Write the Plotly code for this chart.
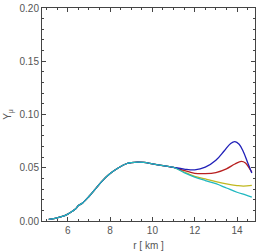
import plotly.graph_objects as go

r_common = [5.1, 5.4, 5.7, 6.0, 6.2, 6.4, 6.5, 6.7, 7.0, 7.3, 7.6, 8.0, 8.4, 8.8, 9.0, 9.3, 9.6, 10.0, 10.5, 11.0]
y_common = [0.0015, 0.0025, 0.0040, 0.0065, 0.009, 0.012, 0.0145, 0.017, 0.023, 0.030, 0.037, 0.0445, 0.050, 0.054, 0.0548, 0.0553, 0.0550, 0.0537, 0.052, 0.0503]

r_blue_tail = [11.5, 12.0, 12.5, 13.0, 13.4, 13.7, 13.9, 14.1, 14.3, 14.5, 14.7]
y_blue_tail = [0.0488, 0.0480, 0.0505, 0.0570, 0.0660, 0.0728, 0.0745, 0.0720, 0.0650, 0.0550, 0.0450]

r_red_tail = [11.5, 12.0, 12.5, 13.0, 13.5, 13.9, 14.2, 14.4, 14.6, 14.7]
y_red_tail = [0.0475, 0.0448, 0.0445, 0.0455, 0.0490, 0.0535, 0.0560, 0.0545, 0.0490, 0.0460]

r_yellow_tail = [11.5, 12.0, 12.5, 13.0, 13.5, 14.0, 14.3, 14.7]
y_yellow_tail = [0.0460, 0.0420, 0.0395, 0.0370, 0.0348, 0.0333, 0.0328, 0.0335]

r_cyan_tail = [11.5, 12.0, 12.5, 13.0, 13.5, 14.0, 14.4, 14.7]
y_cyan_tail = [0.0455, 0.0413, 0.0380, 0.0350, 0.0310, 0.0270, 0.0245, 0.0225]

series = [
    ("#c0b820", r_yellow_tail, y_yellow_tail),
    ("#b82020", r_red_tail, y_red_tail),
    ("#2020b8", r_blue_tail, y_blue_tail),
    ("#20b8c0", r_cyan_tail, y_cyan_tail),
]

fig = go.Figure()
for col, rt, yt in series:
    fig.add_trace(go.Scatter(x=r_common + rt, y=y_common + yt, mode="lines",
                             line=dict(color=col, width=1.3, shape="spline"),
                             showlegend=False, hoverinfo="skip"))

FONT = "Liberation Sans"
axis_common = dict(showline=True, linecolor="#444", linewidth=1, mirror="allticks",
                   ticks="inside", ticklen=4, tickcolor="#444", showgrid=False, zeroline=False,
                   tickfont=dict(family=FONT, size=10, color="#555"))

fig.update_xaxes(range=[4.78, 14.85], dtick=2, tick0=0,
                 minor=dict(ticks="inside", ticklen=2, dtick=0.5, tickcolor="#444"),
                 title=dict(text="r [ km ]", font=dict(family=FONT, size=10, color="#555"), standoff=6),
                 **axis_common)
fig.update_yaxes(range=[0, 0.2], dtick=0.05, tickformat=".2f",
                 minor=dict(ticks="inside", ticklen=2, dtick=0.01, tickcolor="#444"),
                 title=dict(text="Y<sub>μ</sub>", font=dict(family=FONT, size=10, color="#555"), standoff=6),
                 **axis_common)

fig.update_layout(width=258, height=252, margin=dict(l=42, r=2, t=6, b=31),
                  paper_bgcolor="white", plot_bgcolor="white")
fig.write_html("out.html", config={"displayModeBar": False},
               post_script="document.body.style.margin='0';document.body.style.overflow='hidden';")
